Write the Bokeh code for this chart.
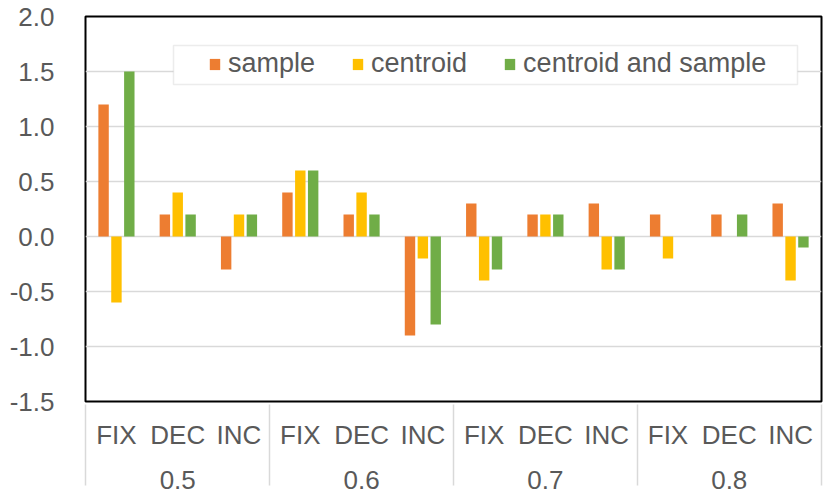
from bokeh.plotting import figure
from bokeh.models import (FactorRange, ColumnDataSource, FixedTicker, PrintfTickFormatter,
                          Legend, LegendItem, Range1d, BoxAnnotation)
from bokeh.transform import dodge
from bokeh.embed import file_html
from bokeh.resources import INLINE

groups = ["0.5", "0.6", "0.7", "0.8"]
methods = ["FIX", "DEC", "INC"]
sample = [1.2, 0.2, -0.3, 0.4, 0.2, -0.9, 0.3, 0.2, 0.3, 0.2, 0.2, 0.3]
centroid = [-0.6, 0.4, 0.2, 0.6, 0.4, -0.2, -0.4, 0.2, -0.3, -0.2, 0.0, -0.4]
centroid_and_sample = [1.5, 0.2, 0.2, 0.6, 0.2, -0.8, -0.3, 0.2, -0.3, 0.0, 0.2, -0.1]
series_names = ["sample", "centroid", "centroid and sample"]
colors = ["#ED7D31", "#FFC000", "#70AD47"]
y_ticks = [-1.5, -1.0, -0.5, 0.0, 0.5, 1.0, 1.5, 2.0]

x = [(g, m) for g in groups for m in methods]
src = ColumnDataSource(dict(x=x, s0=sample, s1=centroid, s2=centroid_and_sample))

FONT = "Liberation Sans"
TXT = "#595959"

# blank edge groups (hidden just outside the frame) so the axis draws
# separator lines at both outer edges, as in the reference
edge_factors = [(" ", " ")] + x + [("  ", "  ")]
xr = FactorRange(*edge_factors, group_padding=0, factor_padding=0,
                 range_padding=-0.995, range_padding_units="absolute")

p = figure(x_range=xr, y_range=Range1d(-1.5, 2.0),
           width=830, height=496, output_backend="svg", toolbar_location=None,
           min_border_left=85, min_border_right=9, min_border_top=16, min_border_bottom=95)

renderers = []
offsets = [-0.21, 0.0, 0.21]
for i, (col, c) in enumerate(zip(["s0", "s1", "s2"], colors)):
    r = p.vbar(x=dodge("x", offsets[i], range=p.x_range), top=col, bottom=0, width=0.17,
               source=src, fill_color=c, line_color=None)
    renderers.append(r)

p.outline_line_color = "black"
p.outline_line_width = 2

p.yaxis.ticker = FixedTicker(ticks=y_ticks)
p.yaxis.formatter = PrintfTickFormatter(format="%.1f")
p.yaxis.axis_line_color = None
p.yaxis.major_tick_line_color = None
p.yaxis.minor_tick_line_color = None
p.yaxis.major_tick_out = 0
p.yaxis.major_label_standoff = 31
p.yaxis.major_label_text_font = FONT
p.yaxis.major_label_text_font_size = "26px"
p.yaxis.major_label_text_color = TXT

p.xaxis.axis_line_color = None
p.xaxis.major_tick_line_color = None
p.xaxis.minor_tick_line_color = None
p.xaxis.major_tick_out = 0
p.xaxis.major_label_standoff = 18
p.xaxis.major_label_text_font = FONT
p.xaxis.major_label_text_font_size = "26px"
p.xaxis.major_label_text_color = TXT
p.xaxis.group_text_font = FONT
p.xaxis.group_text_font_size = "26px"
p.xaxis.group_text_color = TXT
p.xaxis.group_text_font_style = "normal"
p.xaxis.separator_line_color = "#d9d9d9"
p.xaxis.separator_line_width = 1.5

p.xgrid.grid_line_color = None
p.ygrid.grid_line_color = "#d9d9d9"
p.ygrid.grid_line_width = 1.5

# legend frame
legend_box = BoxAnnotation(left=88, right=712, top=356, bottom=317,
                           left_units="screen", right_units="screen",
                           top_units="screen", bottom_units="screen",
                           fill_color="white", fill_alpha=1,
                           line_color="#bfbfbf", line_width=1.5)
p.add_layout(legend_box)

legend = Legend(items=[LegendItem(label=n, renderers=[r]) for n, r in zip(series_names, renderers)],
                orientation="horizontal", location=(123, 322),
                padding=5, spacing=36, label_standoff=7, glyph_width=13, glyph_height=14,
                label_text_font=FONT, label_text_font_size="27px", label_text_color=TXT,
                border_line_color=None, background_fill_alpha=0,
                margin=0)
p.add_layout(legend)

open("out.html", "w").write(file_html(p, INLINE))
